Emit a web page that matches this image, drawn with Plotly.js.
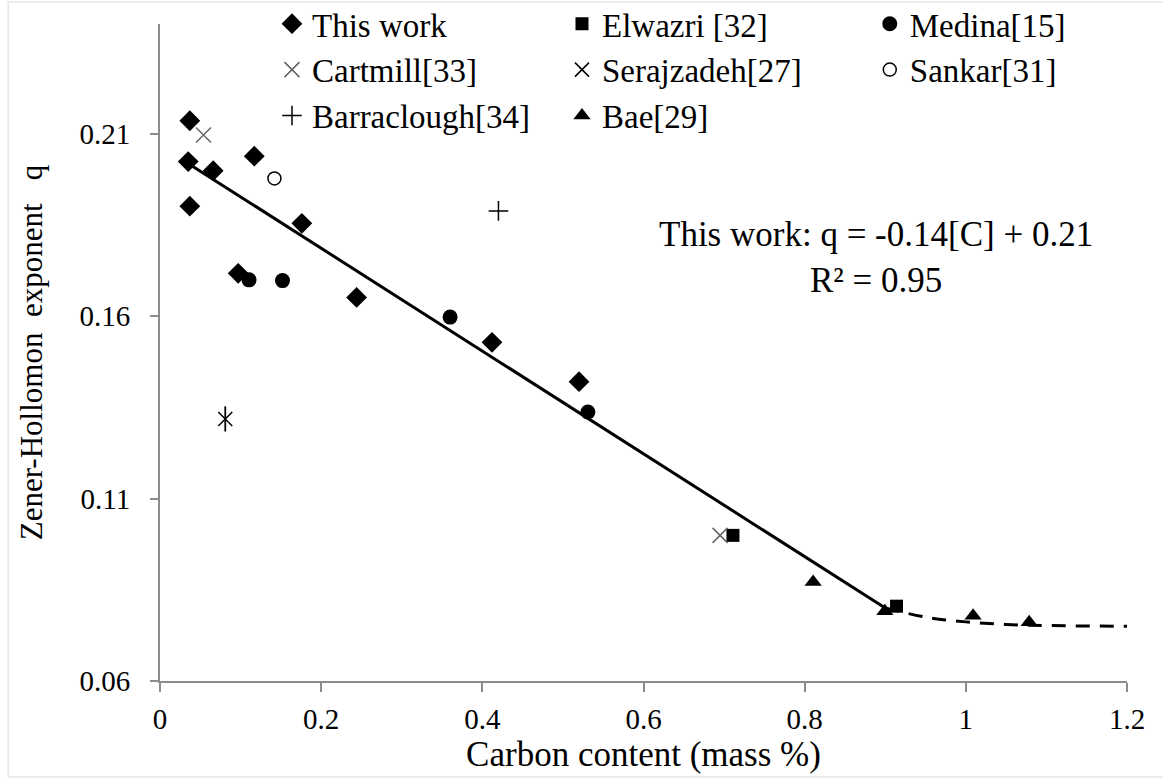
<!DOCTYPE html>
<html>
<head>
<meta charset="utf-8">
<script src="https://cdn.plot.ly/plotly-3.0.1.min.js"></script>
<style>html,body{margin:0;padding:0;background:#fff;}#chart{width:1163px;height:780px;}</style>
</head>
<body>
<div id="chart"></div>
<script>
// ---- data ----
const thisWorkX = [0.037, 0.035, 0.066, 0.117, 0.037, 0.176, 0.097, 0.244, 0.412, 0.520];
const thisWorkY = [0.2135, 0.2023, 0.1998, 0.2038, 0.1901, 0.1854, 0.1717, 0.1651, 0.1528, 0.1420];
const elwazriX = [0.711, 0.914];
const elwazriY = [0.0999, 0.0805];
const medinaX = [0.1105, 0.152, 0.360, 0.531];
const medinaY = [0.1699, 0.1697, 0.1597, 0.1337];
const cartmillX = [0.054, 0.695];
const cartmillY = [0.2096, 0.0999];
const serajzadehX = [0.081];
const serajzadehY = [0.1318];
const sankarX = [0.142];
const sankarY = [0.1977];
const barracloughX = [0.420];
const barracloughY = [0.1888];
const baeX = [0.8105, 0.8995, 1.009, 1.0786];
const baeY = [0.0871, 0.0791, 0.0779, 0.0761];
// fitted trend (solid) and extrapolated trend (dashed)
const fitX = [0.035, 0.900];
const fitY = [0.2018, 0.0800];
const tailX = [0.900, 0.950, 1.000, 1.050, 1.100, 1.200];
const tailY = [0.0800, 0.0775, 0.0762, 0.0755, 0.0752, 0.0750];
const xTicks = [0, 0.2, 0.4, 0.6, 0.8, 1, 1.2];
const xTickText = ['0', '0.2', '0.4', '0.6', '0.8', '1', '1.2'];
const yTicks = [0.06, 0.11, 0.16, 0.21];
const yTickText = ['0.06', '0.11', '0.16', '0.21'];

const FONT = '"Liberation Serif", "DejaVu Serif", serif';
const BLACK = '#000000';

function pts(name, x, y, marker, legend, show) {
  return {type: 'scatter', mode: 'markers', name: name, x: x, y: y,
          marker: marker, legend: legend, showlegend: show !== false,
          hoverinfo: 'x+y+name', cliponaxis: false};
}

const traces = [
  {type: 'scatter', mode: 'lines', x: fitX, y: fitY, showlegend: false,
   line: {color: BLACK, width: 3}, hoverinfo: 'skip'},
  {type: 'scatter', mode: 'lines', x: tailX, y: tailY, showlegend: false,
   line: {color: BLACK, width: 3, dash: '14px,10px', shape: 'spline'}, hoverinfo: 'skip'},
  pts('This work', thisWorkX, thisWorkY, {symbol: 'diamond', size: 16, color: BLACK}, 'legend'),
  pts('Elwazri [32]', elwazriX, elwazriY, {symbol: 'square', size: 13, color: BLACK}, 'legend2'),
  pts('Medina[15]', medinaX, medinaY, {symbol: 'circle', size: 15, color: BLACK}, 'legend3'),
  pts('Cartmill[33]', cartmillX, cartmillY, {symbol: 'x-thin-open', size: 15, color: '#666666', line: {width: 1.5, color: '#666666'}}, 'legend'),
  pts('Serajzadeh[27]', serajzadehX, serajzadehY, {symbol: 'x-thin-open', size: 14, color: BLACK, line: {width: 1.5, color: BLACK}}, 'legend2'),
  pts('Serajzadeh[27]', serajzadehX, serajzadehY, {symbol: 'line-ns-open', size: 18, color: BLACK, line: {width: 1.8, color: BLACK}}, 'legend2', false),
  pts('Sankar[31]', sankarX, sankarY, {symbol: 'circle-open', size: 13, color: BLACK, line: {width: 1.5, color: BLACK}}, 'legend3'),
  pts('Barraclough[34]', barracloughX, barracloughY, {symbol: 'cross-thin-open', size: 14, color: BLACK, line: {width: 1.5, color: BLACK}}, 'legend'),
  pts('Bae[29]', baeX, baeY, {symbol: 'triangle-up', size: 15, color: BLACK}, 'legend2')
];

// one vertical legend per column of the reference's legend grid
function legendCol(x) {
  return {orientation: 'v', x: x, xanchor: 'left', y: 1.043, yanchor: 'top',
          xref: 'paper', yref: 'paper', bgcolor: 'rgba(0,0,0,0)', borderwidth: 0,
          itemwidth: 30, itemclick: false, tracegroupgap: 0,
          font: {family: FONT, size: 33, color: BLACK}};
}

const layout = {
  width: 1163, height: 780,
  margin: {l: 160, r: 36, t: 24, b: 99, pad: 0, autoexpand: false},
  paper_bgcolor: '#ffffff', plot_bgcolor: '#ffffff',
  font: {family: FONT, color: BLACK},
  showlegend: true,
  legend: legendCol(0.1158),
  legend2: legendCol(0.4157),
  legend3: legendCol(0.734),
  xaxis: {
    range: [0, 1.2], tickmode: 'array', tickvals: xTicks, ticktext: xTickText,
    showgrid: false, zeroline: false, showline: true, linecolor: '#8c8c8c', linewidth: 2,
    ticks: 'outside', ticklen: 9, tickwidth: 2, tickcolor: '#8c8c8c',
    tickfont: {family: FONT, size: 29, color: BLACK}, ticklabelstandoff: 2,
    title: {text: 'Carbon content (mass %)', font: {family: FONT, size: 35, color: BLACK}, standoff: 6}
  },
  yaxis: {
    range: [0.06, 0.24], tickmode: 'array', tickvals: yTicks, ticktext: yTickText,
    showgrid: false, zeroline: false, showline: true, linecolor: '#8c8c8c', linewidth: 2,
    ticks: 'outside', ticklen: 8, tickwidth: 2, tickcolor: '#8c8c8c',
    tickfont: {family: FONT, size: 29, color: BLACK}, ticklabelstandoff: 14,
    title: {text: 'Zener-Hollomon  exponent   q', font: {family: FONT, size: 31, color: BLACK}, standoff: 28}
  },
  annotations: [
    {xref: 'paper', yref: 'paper', x: 0.7404, y: 0.645, xanchor: 'center', yanchor: 'middle',
     text: 'This work: q = -0.14[C] + 0.21<br>R² = 0.95', showarrow: false, align: 'center',
     font: {family: FONT, size: 35, color: BLACK}}
  ],
  shapes: [
    {type: 'rect', xref: 'paper', yref: 'paper', x0: -0.157, x1: 1.05, y0: -0.146, y1: 1.0335,
     line: {color: '#e6e6e6', width: 1.5}, fillcolor: 'rgba(0,0,0,0)', layer: 'below'}
  ]
};

Plotly.newPlot('chart', traces, layout, {displayModeBar: false, staticPlot: true});
</script>
</body>
</html>
